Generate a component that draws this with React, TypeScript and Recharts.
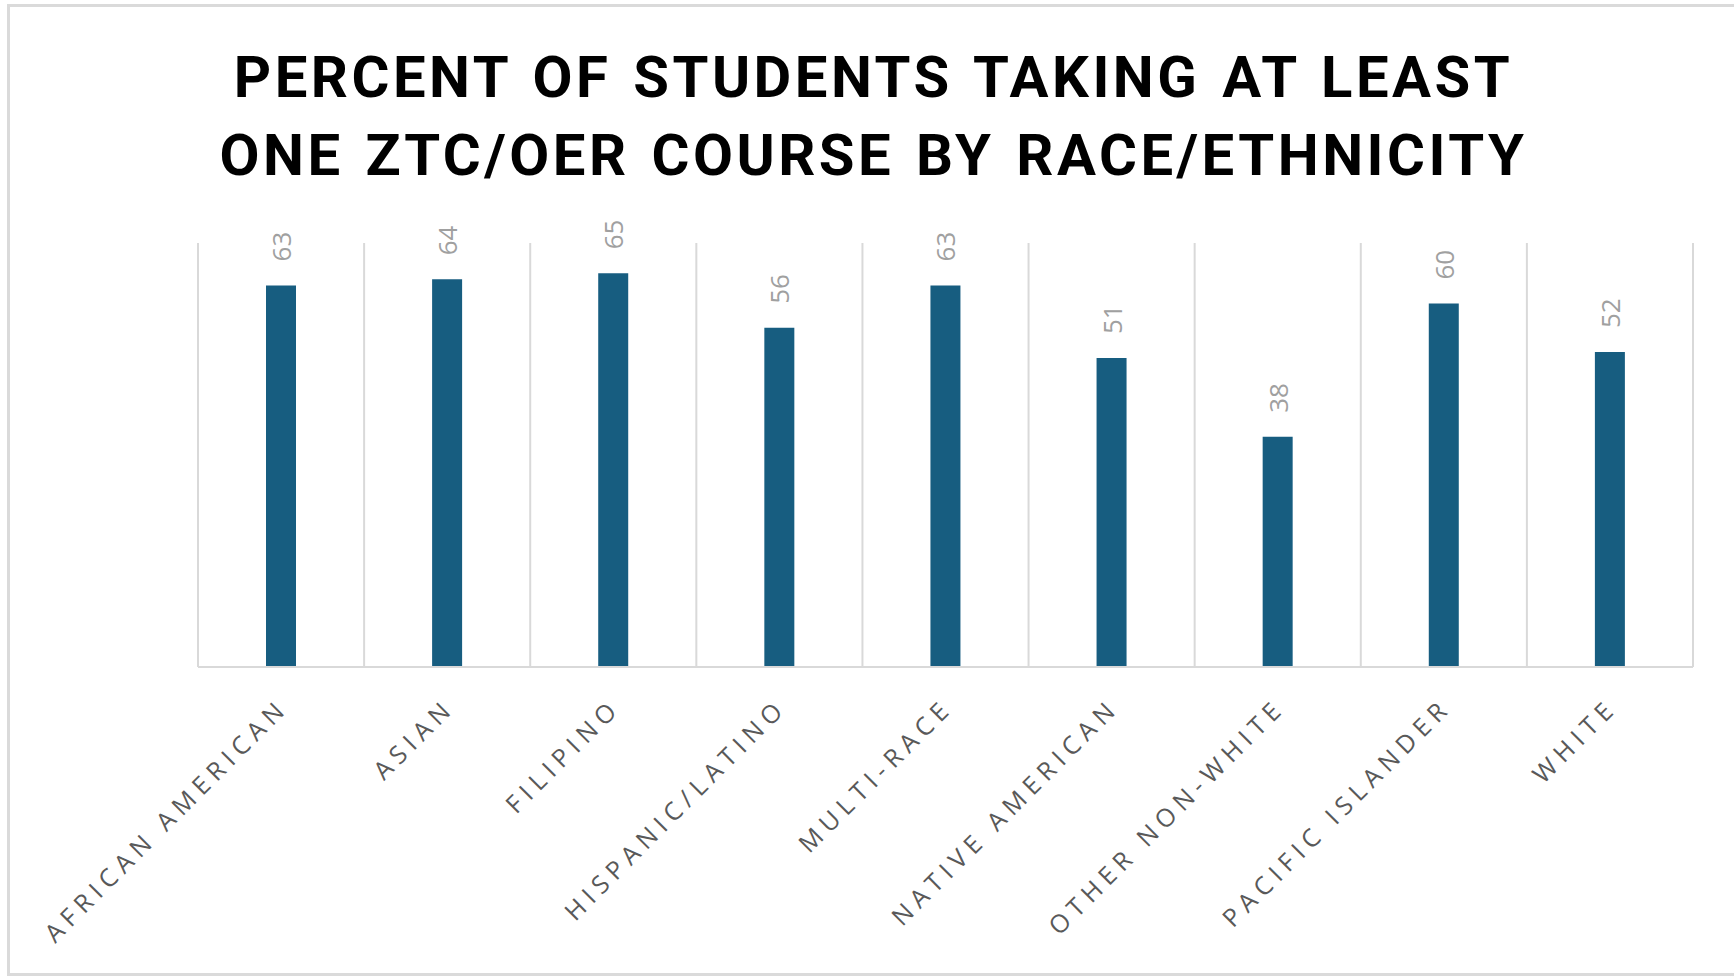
import { BarChart, Bar, XAxis, YAxis, CartesianGrid, LabelList } from "recharts";

const categories = [
  "AFRICAN AMERICAN",
  "ASIAN",
  "FILIPINO",
  "HISPANIC/LATINO",
  "MULTI-RACE",
  "NATIVE AMERICAN",
  "OTHER NON-WHITE",
  "PACIFIC ISLANDER",
  "WHITE",
];
const percents = [63, 64, 65, 56, 63, 51, 38, 60, 52];
const titleLines = ["PERCENT OF STUDENTS TAKING AT LEAST", "ONE ZTC/OER COURSE BY RACE/ETHNICITY"];

const data = categories.map((name, i) => ({ name, value: percents[i] }));

const BAR_COLOR = "#175d80";
const GRID_COLOR = "#d9d9d9";

// rotated category label, end of the text sits just under the bar
const CategoryTick = ({ x, y, payload }: any) => {
  const tx = x + 9;
  const ty = y + 34;
  return (
    <text
      x={tx}
      y={ty}
      transform={`rotate(-45, ${tx}, ${ty})`}
      textAnchor="end"
      fill="#595959"
      fontSize={25}
      letterSpacing={6.2}
      fontFamily="'Open Sans', sans-serif"
    >
      {payload.value}
    </text>
  );
};

// value written vertically above each bar
const ValueLabel = (props: any) => {
  const { x, y, width, value } = props;
  const cx = x + width / 2;
  const cy = y - 24;
  return (
    <text
      x={cx}
      y={cy}
      transform={`rotate(-90, ${cx}, ${cy})`}
      textAnchor="start"
      dominantBaseline="central"
      fill="#a0a0a0"
      fontSize={26}
      fontFamily="'Open Sans', sans-serif"
    >
      {value}
    </text>
  );
};

// gridlines sit between the categories, not on them
const boundaryLines = ({ offset }: any) => {
  const lines: number[] = [];
  for (let i = 0; i <= categories.length; i++) {
    lines.push(offset.left + (offset.width * i) / categories.length);
  }
  return lines;
};

export default function App() {
  return (
    <div style={{ position: "relative", width: 1734, height: 980, background: "#fff", overflow: "hidden" }}>
      <style>{`body { margin: 0; overflow: hidden; }`}</style>
      <div
        style={{
          position: "absolute",
          left: 7,
          top: 4,
          width: 1760,
          height: 972,
          boxSizing: "border-box",
          border: "3px solid #dadada",
        }}
      />
      <div
        style={{
          position: "absolute",
          left: 7,
          top: 38,
          width: 1733,
          textAlign: "center",
          fontFamily: "Roboto, sans-serif",
          fontWeight: 700,
          fontSize: 58,
          lineHeight: "78px",
          letterSpacing: 3.5,
          wordSpacing: 4,
          color: "#000",
        }}
      >
        {titleLines.map((t) => (
          <div key={t}>{t}</div>
        ))}
      </div>
      <div style={{ position: "absolute", left: 0, top: 0 }}>
        <BarChart width={1734} height={980} data={data} margin={{ top: 243, right: 41, bottom: 33, left: 198 }} barSize={30}>
          <CartesianGrid horizontal={false} stroke={GRID_COLOR} strokeWidth={2} verticalCoordinatesGenerator={boundaryLines} />
          <XAxis
            dataKey="name"
            interval={0}
            height={280}
            tickLine={false}
            axisLine={{ stroke: GRID_COLOR, strokeWidth: 2 }}
            tick={<CategoryTick />}
          />
          <YAxis hide domain={[0, 70]} />
          <Bar dataKey="value" fill={BAR_COLOR} isAnimationActive={false}>
            <LabelList dataKey="value" content={<ValueLabel />} />
          </Bar>
        </BarChart>
      </div>
    </div>
  );
}
